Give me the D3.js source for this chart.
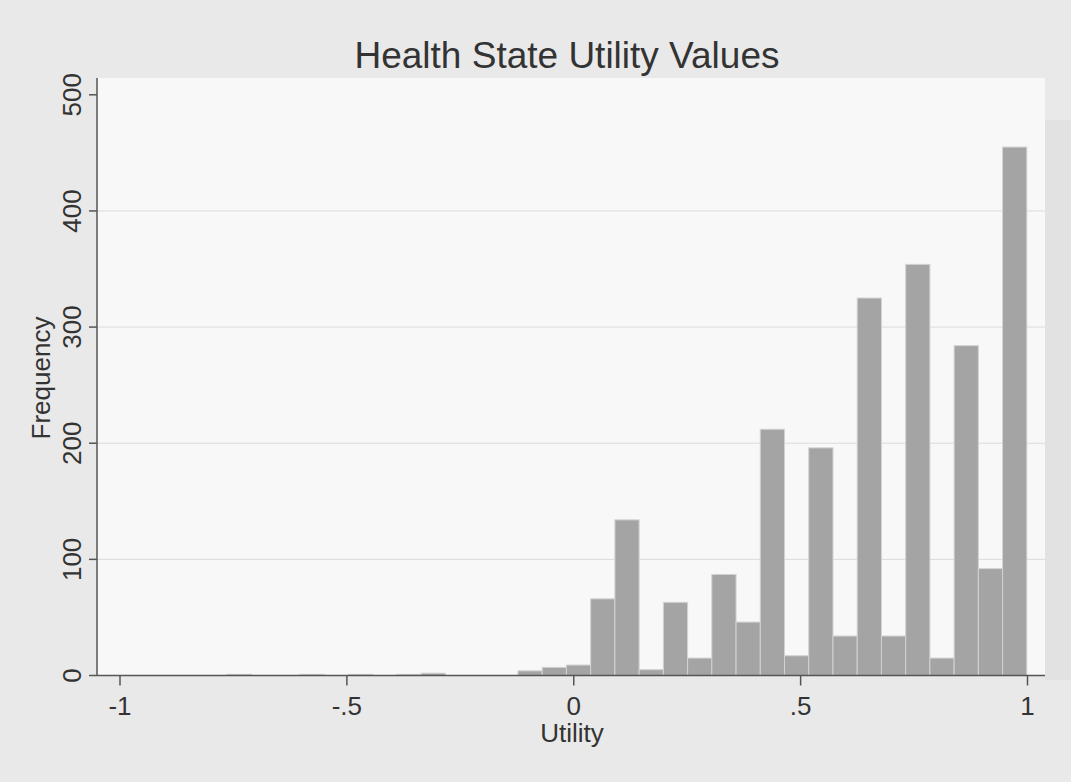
<!DOCTYPE html>
<html lang="en">
<head>
<meta charset="UTF-8">
<title>Health State Utility Values</title>
<script src="https://cdn.jsdelivr.net/npm/d3@7"></script>
<style>
  body { margin: 0; background: #e9e9e9; }
  svg { display: block; font-family: "Liberation Sans", Arial, sans-serif; }
</style>
</head>
<body>
<script>
// histogram bins (utility), first bin lower edge and width
const binStart = -0.7626;
const binWidth = 0.0534;
const counts = [1, 0, 0, 1, 0, 1, 0, 1, 2, 0, 0, 0, 4, 7, 9,
                66, 134, 5, 63, 15, 87, 46, 212, 17,
                196, 34, 325, 34, 354, 15, 284, 92, 455];
const xTicks = [-1, -0.5, 0, 0.5, 1];
const xTickLabels = ["-1", "-.5", "0", ".5", "1"];
const yTicks = [0, 100, 200, 300, 400, 500];
const gridTicks = [100, 200, 300, 400];

const width = 1071, height = 782;
const svg = d3.select("body").append("svg").attr("width", width).attr("height", height);

// plot area background
svg.append("rect").attr("x", 97).attr("y", 78).attr("width", 948).attr("height", 598)
   .attr("fill", "#f8f8f8");
svg.append("rect").attr("x", 1045).attr("y", 120).attr("width", 26).attr("height", 560)
   .attr("fill", "#e2e2e2");

const x = d3.scaleLinear().domain([-1, 1]).range([119.5, 1027]);
const y = d3.scaleLinear().domain([0, 500]).range([675.5, 94.8]);

// gridlines
svg.append("g").selectAll("line").data(gridTicks).join("line")
   .attr("x1", 97).attr("x2", 1045)
   .attr("y1", d => y(d)).attr("y2", d => y(d))
   .attr("stroke", "#dcdcdc").attr("stroke-width", 1);

const bins = counts.map((c, i) => ({x0: binStart + i * binWidth, x1: binStart + (i + 1) * binWidth, n: c}));

svg.append("g").selectAll("rect").data(bins.filter(d => d.n > 0)).join("rect")
   .attr("x", d => x(d.x0))
   .attr("width", d => x(d.x1) - x(d.x0))
   .attr("y", d => y(d.n))
   .attr("height", d => y(0) - y(d.n))
   .attr("fill", "#a4a4a4")
   .attr("stroke", "#d2d2d2")
   .attr("stroke-width", 1);

// x axis
const xAxis = svg.append("g").attr("transform", `translate(0,${y(0)})`)
   .call(d3.axisBottom(x).tickValues(xTicks).tickFormat((d, i) => xTickLabels[i]).tickSize(10).tickSizeOuter(0));
xAxis.select(".domain").attr("d", `M97,0H1045`);
// y axis
const yAxis = svg.append("g").attr("transform", "translate(97,0)")
   .call(d3.axisLeft(y).tickValues(yTicks).tickSize(8).tickSizeOuter(0));
yAxis.select(".domain").attr("d", `M0,78V${y(0)}`);

svg.selectAll(".domain, .tick line").attr("stroke", "#555").attr("stroke-width", 1.5);
xAxis.selectAll("text").attr("font-size", 26).attr("fill", "#333").attr("dy", "1em").attr("y", 13);
yAxis.selectAll("text").attr("font-size", 26).attr("fill", "#333")
   .attr("transform", "rotate(-90)").attr("x", d => -y(d)).attr("y", -16)
   .attr("dy", 0).attr("text-anchor", "middle")
   .attr("dominant-baseline", "auto");
yAxis.selectAll(".tick").attr("transform", null);
yAxis.selectAll(".tick line").attr("y1", d => y(d)).attr("y2", d => y(d));

// title and axis titles
svg.append("text").attr("x", 567).attr("y", 68).attr("text-anchor", "middle")
   .attr("font-size", 37).attr("fill", "#333").text("Health State Utility Values");
svg.append("text").attr("x", 572).attr("y", 742).attr("text-anchor", "middle")
   .attr("font-size", 26).attr("fill", "#333").text("Utility");
svg.append("text").attr("transform", "translate(50,378) rotate(-90)").attr("text-anchor", "middle")
   .attr("font-size", 26).attr("fill", "#333").text("Frequency");
</script>
</body>
</html>
